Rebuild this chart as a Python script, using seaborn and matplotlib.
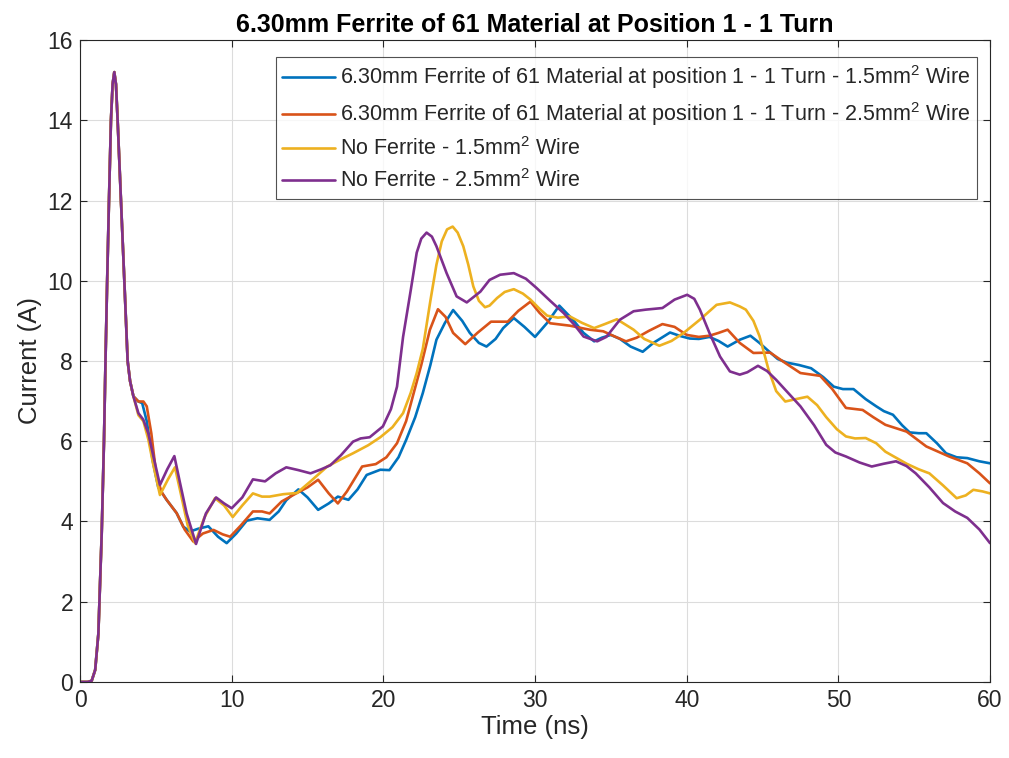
import matplotlib
matplotlib.use("Agg")
import matplotlib.pyplot as plt
import seaborn as sns
import numpy as np
import pandas as pd

# ---------------- data ----------------
t_start = [0, 0.5, 0.77, 1.0, 1.21, 1.43, 1.58, 1.68, 1.79, 1.91, 2.04, 2.15, 2.26, 2.37, 2.48,
           2.7, 2.9, 3.14, 3.3, 3.52]
v_start = [0, 0, 0.03, 0.3, 1.2, 3.7, 6.0, 8.0, 10.0, 12.0, 14.0, 14.9, 15.2, 14.9, 14.0,
           12.0, 10.2, 8.0, 7.5, 7.12]

t_blue = [3.85, 4.1, 4.4, 4.8, 5.16, 5.71, 6.37, 6.81, 7.25, 7.8, 8.46, 9.1, 9.67, 10.3, 10.99, 11.7, 12.5,
          13.1, 13.6, 14.4, 15.0, 15.7, 16.4, 17.0, 17.7, 18.3, 18.9, 19.8, 20.4, 21.0, 21.5, 22.1, 22.6,
          23.1, 23.5, 24.06, 24.6, 25.2, 25.7, 26.3, 26.8, 27.4, 27.9, 28.6, 29.3, 30.0, 30.8, 31.6, 32.5,
          33.2, 33.9, 34.4, 35.0, 35.6, 36.3, 37.1, 37.8, 38.9, 39.6, 40.2, 40.8, 41.5, 42.1, 42.7, 43.5, 44.2,
          44.8, 45.3, 46.0, 46.6, 47.4, 48.2, 49.0, 49.7, 50.3, 51.0, 51.8, 52.5, 53.0, 53.6, 54.2, 54.7,
          55.3, 55.8, 56.5, 57.1, 57.8, 58.5, 59.3, 60.0]
v_blue = [6.99, 6.95, 6.5, 5.5, 4.85, 4.54, 4.21, 3.87, 3.75, 3.82, 3.88, 3.62, 3.46, 3.7, 4.02, 4.08, 4.04,
          4.25, 4.53, 4.8, 4.6, 4.29, 4.45, 4.62, 4.54, 4.8, 5.16, 5.29, 5.28, 5.6, 6.03, 6.6, 7.2,
          7.9, 8.53, 8.95, 9.27, 9.0, 8.7, 8.45, 8.36, 8.55, 8.82, 9.07, 8.85, 8.6, 8.95, 9.38, 9.03,
          8.7, 8.49, 8.58, 8.65, 8.55, 8.36, 8.23, 8.45, 8.71, 8.62, 8.56, 8.55, 8.6, 8.5, 8.36, 8.53, 8.63,
          8.45, 8.28, 8.05, 7.96, 7.9, 7.82, 7.6, 7.36, 7.3, 7.3, 7.05, 6.87, 6.75, 6.66, 6.4, 6.22,
          6.2, 6.2, 5.95, 5.7, 5.6, 5.58, 5.5, 5.45]

t_orange = [3.85, 4.18, 4.4, 4.7, 5.05, 5.4, 5.71, 6.37, 6.9, 7.47, 8.1, 8.8, 9.4, 9.9, 10.6, 11.4, 12.0,
            12.5, 13.3, 14.3, 15.0, 15.7, 16.4, 17.0, 17.6, 18.6, 19.5, 20.2, 20.9, 21.5, 22.0, 22.5, 23.07,
            23.6, 24.1, 24.6, 25.4, 26.2, 27.1, 28.2, 28.9, 29.7, 30.3, 31.0, 32.3, 33.6, 34.5, 35.2, 36.0,
            36.7, 37.5, 38.4, 39.2, 40.0, 40.8, 41.5, 42.1, 42.7, 43.5, 44.4, 45.5, 46.5, 47.5, 48.8, 49.6,
            50.5, 51.6, 52.3, 53.1, 54.5, 55.8, 57.3, 58.5, 59.3, 60.0]
v_orange = [6.99, 6.99, 6.87, 6.2, 5.1, 4.72, 4.54, 4.21, 3.8, 3.5, 3.7, 3.79, 3.68, 3.62, 3.9, 4.25, 4.25,
            4.2, 4.5, 4.71, 4.85, 5.04, 4.7, 4.45, 4.75, 5.37, 5.43, 5.6, 5.95, 6.5, 7.2, 7.9, 8.78,
            9.29, 9.1, 8.7, 8.42, 8.7, 8.98, 8.98, 9.25, 9.48, 9.2, 8.94, 8.88, 8.78, 8.74, 8.62, 8.49,
            8.58, 8.75, 8.92, 8.85, 8.65, 8.6, 8.63, 8.7, 8.78, 8.45, 8.2, 8.21, 7.95, 7.7, 7.63, 7.3,
            6.83, 6.78, 6.6, 6.41, 6.24, 5.87, 5.62, 5.45, 5.2, 4.95]

t_yellow = [3.85, 4.18, 4.5, 4.84, 5.27, 5.8, 6.26, 6.7, 7.1, 7.58, 8.2, 8.9, 9.5, 10.07, 10.7, 11.4, 12.0,
            12.5, 13.4, 14.3, 15.2, 16.3, 17.2, 18.0, 19.0, 19.8, 20.6, 21.3, 21.8, 22.2, 22.6, 23.1, 23.5,
            23.85, 24.2, 24.57, 24.9, 25.27, 25.6, 25.93, 26.3, 26.7, 27.0, 27.5, 28.0, 28.6, 29.2, 29.7,
            30.3, 30.8, 31.5, 32.3, 33.1, 33.9, 34.6, 35.4, 36.5, 37.2, 38.2, 39.0, 39.8, 40.87, 41.97,
            42.85, 43.5, 43.9, 44.4, 44.8, 45.4, 45.9, 46.5, 47.2, 47.96, 48.6, 49.2, 49.9, 50.5, 51.1,
            51.8, 52.5, 53.1, 54.5, 55.3, 56.0, 56.9, 57.8, 58.4, 58.9, 59.5, 60.0]
v_yellow = [6.65, 6.5, 6.05, 5.4, 4.66, 5.05, 5.35, 4.6, 3.9, 3.46, 4.1, 4.58, 4.4, 4.11, 4.4, 4.7, 4.62,
            4.62, 4.68, 4.71, 5.0, 5.37, 5.55, 5.7, 5.9, 6.1, 6.35, 6.7, 7.2, 7.7, 8.3, 9.5, 10.4,
            10.98, 11.28, 11.35, 11.2, 10.86, 10.4, 9.86, 9.5, 9.34, 9.38, 9.57, 9.72, 9.79, 9.68, 9.53,
            9.3, 9.13, 9.08, 9.11, 8.95, 8.82, 8.92, 9.04, 8.78, 8.55, 8.38, 8.5, 8.7, 9.03, 9.4,
            9.46, 9.36, 9.28, 9.0, 8.62, 7.78, 7.25, 6.99, 7.05, 7.11, 6.9, 6.6, 6.3, 6.12, 6.07,
            6.08, 5.95, 5.74, 5.44, 5.3, 5.2, 4.9, 4.58, 4.65, 4.79, 4.75, 4.7]

t_purple = [3.85, 4.17, 4.5, 4.84, 5.27, 5.75, 6.22, 6.6, 7.03, 7.65, 8.3, 8.97, 9.5, 10.0, 10.7, 11.4, 12.2,
            12.9, 13.6, 14.4, 15.2, 15.9, 16.5, 17.2, 18.0, 18.5, 19.1, 19.97, 20.5, 20.9, 21.3, 21.8,
            22.2, 22.5, 22.85, 23.2, 23.5, 24.17, 24.83, 25.5, 26.4, 27.0, 27.7, 28.6, 29.4, 30.1, 31.0,
            31.9, 32.6, 33.2, 34.1, 34.7, 35.6, 36.5, 37.3, 38.4, 39.2, 40.03, 40.5, 40.87, 41.5, 42.2,
            42.85, 43.5, 44.0, 44.7, 45.3, 45.9, 46.7, 47.5, 48.4, 49.2, 49.8, 50.5, 51.4, 52.2, 53.0,
            53.8, 54.5, 55.1, 56.0, 56.9, 57.7, 58.5, 59.3, 60.0]
v_purple = [6.7, 6.54, 6.2, 5.62, 4.91, 5.3, 5.63, 4.95, 4.2, 3.44, 4.2, 4.6, 4.45, 4.33, 4.6, 5.05, 5.0,
            5.2, 5.35, 5.28, 5.2, 5.3, 5.4, 5.65, 5.99, 6.07, 6.1, 6.37, 6.8, 7.36, 8.6, 9.75,
            10.7, 11.05, 11.2, 11.1, 10.86, 10.19, 9.61, 9.46, 9.73, 10.02, 10.15, 10.19, 10.05, 9.82, 9.5,
            9.19, 8.9, 8.61, 8.49, 8.6, 9.03, 9.24, 9.28, 9.32, 9.53, 9.65, 9.55, 9.28, 8.7, 8.11,
            7.74, 7.66, 7.72, 7.88, 7.75, 7.53, 7.2, 6.87, 6.4, 5.91, 5.72, 5.62, 5.47, 5.37, 5.44,
            5.5, 5.38, 5.2, 4.85, 4.46, 4.25, 4.09, 3.8, 3.46]

labels = [
    "6.30mm Ferrite of 61 Material at position 1 - 1 Turn - 1.5mm$^{2}$ Wire",
    "6.30mm Ferrite of 61 Material at position 1 - 1 Turn - 2.5mm$^{2}$ Wire",
    "No Ferrite - 1.5mm$^{2}$ Wire",
    "No Ferrite - 2.5mm$^{2}$ Wire",
]
colors = ["#0072BD", "#D95319", "#EDB120", "#7E2F8E"]
title = "6.30mm Ferrite of 61 Material at Position 1 - 1 Turn"
x_label = "Time (ns)"
y_label = "Current (A)"

# ---------------- style ----------------
sns.set_style("ticks")
fonts = ["Liberation Sans", "DejaVu Sans"]
plt.rcParams["font.family"] = fonts
plt.rcParams["mathtext.default"] = "regular"

frames = []
for lab, tt, vv in zip(labels, [t_blue, t_orange, t_yellow, t_purple],
                       [v_blue, v_orange, v_yellow, v_purple]):
    frames.append(pd.DataFrame({"Time": list(t_start) + list(tt),
                                "Current": list(v_start) + list(vv),
                                "Series": lab}))
df = pd.concat(frames, ignore_index=True)

fig = plt.figure(figsize=(10.09, 7.58), dpi=100)
ax = fig.add_axes([0.0793, 0.1003, 0.9019, 0.8469])

sns.lineplot(data=df, x="Time", y="Current", hue="Series", palette=colors,
             hue_order=labels, estimator=None, sort=False, linewidth=1.9, ax=ax)

ax.set_xlim(0, 60)
ax.set_ylim(0, 16)
ax.set_xticks(np.arange(0, 61, 10))
ax.set_yticks(np.arange(0, 17, 2))
ax.grid(True, color="#dcdcdc", linewidth=0.8)
ax.tick_params(direction="in", top=True, right=True, labelsize=16.5, length=5,
               colors="#262626", width=0.8, pad=5)
for s in ax.spines.values():
    s.set_color("#262626")
    s.set_linewidth(0.8)
ax.set_xlabel(x_label, fontsize=18.5, color="#262626", labelpad=2)
ax.set_ylabel(y_label, fontsize=18.5, color="#262626", labelpad=4)
ax.set_title(title, fontsize=18, fontweight="bold", color="black", pad=6)

leg = ax.legend(loc="upper right", bbox_to_anchor=(0.9857, 0.9735), fontsize=15.5,
                frameon=True, fancybox=False, edgecolor="#262626", handlelength=2.45,
                handletextpad=0.25, borderaxespad=0.0, labelspacing=0.42, borderpad=0.3)
leg.get_frame().set_linewidth(0.8)

fig.savefig("out.png", dpi=100)
